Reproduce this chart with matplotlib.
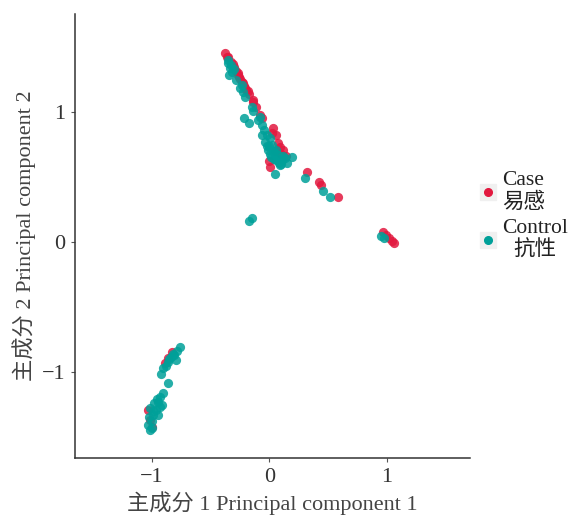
import matplotlib
matplotlib.use("Agg")
import matplotlib.pyplot as plt
from matplotlib.lines import Line2D
from matplotlib.legend_handler import HandlerTuple

plt.rcParams['font.family'] = ['Liberation Serif', 'Noto Sans CJK SC', 'DejaVu Sans']

# PCA scores
case_x = [-0.374, -0.349, -0.323, -0.298, -0.281, -0.264, -0.247, -0.230, -0.213, -0.196,
          -0.170, -0.136, -0.077, -0.060, 0.034, 0.060, 0.094, 0.119, 0.077, 0.009,
          0.323, 0.426, 0.443, 0.587,
          0.970, 0.996, 1.021, 1.047, 1.064,
          -0.885, -0.860, -1.030, -0.996, -1.013, -0.826,
          -0.360, -0.310, -0.270, -0.255, -0.225, -0.205, -0.185, -0.140, -0.110,
          0.050, 0.100, 0.140, 0.000, 0.025]
case_y = [1.454, 1.423, 1.385, 1.346, 1.315, 1.285, 1.254, 1.231, 1.200, 1.169,
          1.138, 1.077, 0.977, 0.954, 0.877, 0.823, 0.731, 0.708, 0.762, 0.577,
          0.538, 0.462, 0.438, 0.346,
          0.077, 0.054, 0.031, 0.008, -0.008,
          -0.931, -0.892, -1.292, -1.423, -1.369, -0.846,
          1.420, 1.370, 1.300, 1.270, 1.220, 1.185, 1.160, 1.090, 1.040,
          0.700, 0.680, 0.660, 0.620, 0.840]

ctrl_x = [-0.349, -0.332, -0.315, -0.340, -0.281, -0.247, -0.221, -0.204, -0.145, -0.213,
          -0.170, -0.094, -0.060, -0.043, -0.017, -0.060, 0.009, -0.034, 0.026, -0.009,
          0.043, 0.077, 0.017, 0.060, 0.111, 0.136, 0.094, 0.153, 0.196, 0.051,
          0.306, 0.460, 0.519, -0.145, -0.170,
          0.953, 0.979,
          -0.757, -0.783, -0.809, -0.834, -0.860, -0.791, -0.902, -0.919, -0.860, -0.902,
          -0.928, -0.945, -0.911, -0.979, -1.013, -0.962, -0.987, -1.021, -0.996, -1.030,
          -1.013, -0.945,
          -0.355, -0.330, -0.300, -0.235, -0.140, -0.080, 0.000, 0.030, 0.070, 0.085,
          0.120, 0.040, 0.010, -0.020, 0.060, 0.100,
          -0.820, -0.850, -0.880, -0.955, -0.990, -1.000, -0.935]
ctrl_y = [1.377, 1.338, 1.308, 1.285, 1.246, 1.185, 1.154, 1.115, 1.038, 0.954,
          0.915, 0.938, 0.900, 0.862, 0.823, 0.823, 0.800, 0.769, 0.746, 0.708,
          0.692, 0.669, 0.654, 0.631, 0.631, 0.646, 0.592, 0.608, 0.654, 0.523,
          0.492, 0.392, 0.346, 0.185, 0.162,
          0.046, 0.031,
          -0.808, -0.838, -0.869, -0.885, -0.923, -0.908, -0.969, -1.015, -1.085, -1.162,
          -1.192, -1.231, -1.254, -1.238, -1.277, -1.292, -1.331, -1.346, -1.377, -1.408,
          -1.446, -1.331,
          1.400, 1.360, 1.330, 1.210, 1.010, 0.960, 0.740, 0.700, 0.640, 0.610,
          0.660, 0.640, 0.680, 0.740, 0.710, 0.600,
          -0.860, -0.900, -0.950, -1.210, -1.300, -1.430, -1.270]

red = "#E2193F"
teal = "#00A099"

fig = plt.figure(figsize=(5.75, 5.17), dpi=100)
ax = fig.add_axes([0.1304, 0.1141, 0.687, 0.8588])

ax.scatter(case_x, case_y, s=44, color=red, alpha=0.85, linewidths=0)
ax.scatter(ctrl_x, ctrl_y, s=44, color=teal, alpha=0.85, linewidths=0)

ax.set_xlim(-1.655, 1.71)
ax.set_ylim(-1.66, 1.754)
ax.set_xticks([-1, 0, 1])
ax.set_yticks([-1, 0, 1])
ax.set_xticklabels(["\u22121", "0", "1"])
ax.set_yticklabels(["\u22121", "0", "1"])

for side in ['top', 'right']:
    ax.spines[side].set_visible(False)
for side in ['left', 'bottom']:
    ax.spines[side].set_color("#333333")
    ax.spines[side].set_linewidth(1.1)
ax.tick_params(length=3, width=0.8, color="#555555", labelsize=16, labelcolor="#333333", pad=4)

ax.set_xlabel("主成分 1 Principal component 1", fontsize=16, color="#444444", labelpad=3)
ax.set_ylabel("主成分 2 Principal component 2", fontsize=16, color="#444444", labelpad=4)

key = dict(marker='s', color="#F0F0F0", ms=11, ls='')
handles = [(Line2D([], [], **key), Line2D([], [], marker='o', color=red, ms=5.5, ls='')),
           (Line2D([], [], **key), Line2D([], [], marker='o', color=teal, ms=5.5, ls=''))]
leg = fig.legend(handles, ["Case\n易感", "Control\n抗性"],
                 handler_map={tuple: HandlerTuple(ndivide=1, pad=0)},
                 loc='center left', bbox_to_anchor=(0.796, 0.582), frameon=False,
                 fontsize=15.5, handlelength=1.0, handletextpad=0.15, labelspacing=0.3)
for t in leg.get_texts():
    t.set_multialignment('center')
    t.set_color("#222222")
    t.set_linespacing(1.15)

fig.savefig("out.png", dpi=100)
